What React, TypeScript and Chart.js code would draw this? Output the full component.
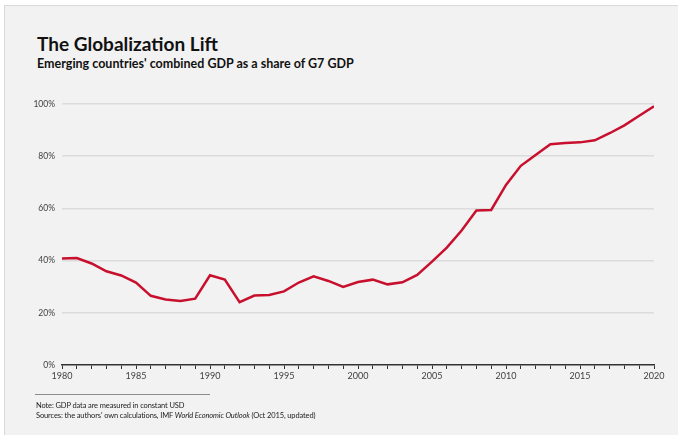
import React, { useEffect, useRef } from "react";
import { Chart, registerables } from "chart.js";

Chart.register(...registerables);

const years: number[] = [
  1980, 1981, 1982, 1983, 1984, 1985, 1986, 1987, 1988, 1989,
  1990, 1991, 1992, 1993, 1994, 1995, 1996, 1997, 1998, 1999,
  2000, 2001, 2002, 2003, 2004, 2005, 2006, 2007, 2008, 2009,
  2010, 2011, 2012, 2013, 2014, 2015, 2016, 2017, 2018, 2019, 2020,
];

const gdpShare: number[] = [
  40.8, 41.0, 38.9, 35.9, 34.3, 31.6, 26.5, 25.1, 24.5, 25.4,
  34.4, 32.7, 24.1, 26.6, 26.8, 28.2, 31.6, 34.0, 32.2, 29.9,
  31.8, 32.7, 30.9, 31.7, 34.5, 39.6, 45.0, 51.5, 59.2, 59.4,
  69.0, 76.3, 80.5, 84.6, 85.1, 85.3, 86.1, 88.8, 91.8, 95.5, 99.1,
];

const yTicks: number[] = [0, 20, 40, 60, 80, 100];
const xLabelYears: number[] = [1980, 1985, 1990, 1995, 2000, 2005, 2010, 2015, 2020];

const FONT = "Lato, 'Open Sans', sans-serif";

export default function App() {
  const canvasRef = useRef<HTMLCanvasElement | null>(null);

  useEffect(() => {
    if (!canvasRef.current) return;
    const chart = new Chart(canvasRef.current, {
      type: "line",
      data: {
        datasets: [
          {
            data: years.map((y, i) => ({ x: y, y: gdpShare[i] })),
            borderColor: "#c8102e",
            borderWidth: 2.5,
            pointRadius: 0,
            tension: 0,
            fill: false,
          },
        ],
      },
      options: {
        animation: false,
        responsive: false,
        maintainAspectRatio: false,
        layout: { padding: { left: 22, right: 24, top: 104, bottom: 50 } },
        plugins: {
          legend: { display: false },
          tooltip: { enabled: false },
          title: { display: false },
        },
        scales: {
          x: {
            type: "linear",
            min: years[0],
            max: years[years.length - 1],
            afterBuildTicks: (scale: any) => {
              scale.ticks = years.map((v) => ({ value: v }));
            },
            afterFit: (scale: any) => {
              scale.height = 20;
            },
            ticks: {
              autoSkip: false,
              maxRotation: 0,
              padding: 2,
              color: "#404040",
              font: { family: FONT, size: 9 },
              callback: (v: any) => (xLabelYears.includes(Number(v)) ? String(v) : ""),
            },
            grid: {
              display: true,
              drawOnChartArea: false,
              drawTicks: true,
              tickLength: 4,
              color: "#333333",
              lineWidth: 1,
            },
            border: { display: true, color: "#333333", width: 1.5 },
          },
          y: {
            min: 0,
            max: 100,
            afterBuildTicks: (scale: any) => {
              scale.ticks = yTicks.map((v) => ({ value: v }));
            },
            afterFit: (scale: any) => {
              scale.width = 40;
            },
            ticks: {
              padding: 7,
              color: "#404040",
              font: { family: FONT, size: 8.5 },
              callback: (v: any) => `${v}%`,
            },
            grid: {
              color: (ctx: any) => (ctx.tick && ctx.tick.value === 0 ? "rgba(0,0,0,0)" : "#dcdcdc"),
              lineWidth: 1.5,
              drawTicks: false,
            },
            border: { display: false },
          },
        },
      },
    });
    return () => chart.destroy();
  }, []);

  return (
    <div style={{ position: "fixed", left: 0, top: 0, width: 678, height: 435, background: "#ffffff", overflow: "hidden" }}>
      <div
        style={{
          position: "absolute",
          left: 4,
          top: 5,
          width: 680,
          height: 440,
          background: "#f2f2f2",
          borderTop: "1px solid #d9d9d9",
          borderLeft: "1px solid #d9d9d9",
        }}
      />
      <div
        style={{
          position: "absolute",
          left: 37,
          top: 33,
          fontFamily: FONT,
          fontWeight: 700,
          fontSize: 19,
          color: "#111111",
          whiteSpace: "nowrap",
          lineHeight: "22px",
        }}
      >
        The Globalization Lift
      </div>
      <div
        style={{
          position: "absolute",
          left: 37,
          top: 56,
          fontFamily: FONT,
          fontWeight: 700,
          fontSize: 12.5,
          color: "#111111",
          whiteSpace: "nowrap",
          lineHeight: "16px",
        }}
      >
        Emerging countries' combined GDP as a share of G7 GDP
      </div>
      <canvas
        ref={canvasRef}
        width={678}
        height={435}
        style={{ position: "absolute", left: 0, top: 0, width: 678, height: 435 }}
      />
      <div style={{ position: "absolute", left: 35, top: 394, width: 175, height: 1, background: "#8c8c8c" }} />
      <div
        style={{
          position: "absolute",
          left: 36,
          top: 401,
          fontFamily: FONT,
          fontSize: 7.5,
          letterSpacing: "-0.12px",
          color: "#222222",
          lineHeight: "10px",
          whiteSpace: "nowrap",
        }}
      >
        <div>Note: GDP data are measured in constant USD</div>
        <div>
          Sources: the authors' own calculations, IMF <i>World Economic Outlook</i> (Oct 2015, updated)
        </div>
      </div>
    </div>
  );
}
